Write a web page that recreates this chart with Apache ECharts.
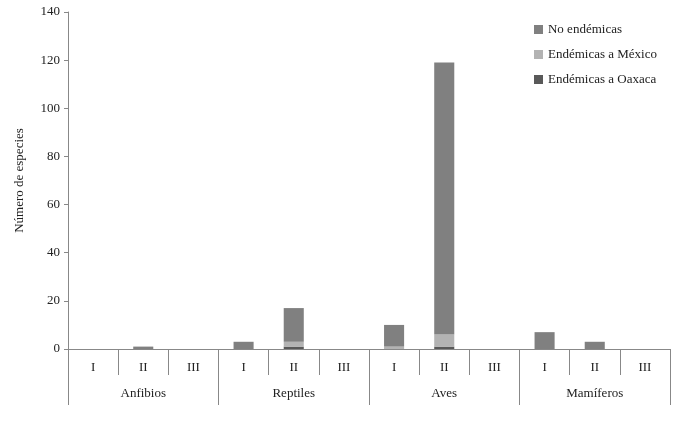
<!DOCTYPE html><html><head><meta charset="utf-8"><script src="https://cdn.jsdelivr.net/npm/echarts@6/dist/echarts.min.js"></script></head><body style="margin:0"><div id="c" style="width:684px;height:421px"></div><script>
const periods=['I','II','III','I','II','III','I','II','III','I','II','III'];
const groups=['Anfibios','Reptiles','Aves','Mamíferos'];
const oaxaca=[0,0,0,0,1,0,0,1,0,0,0,0];
const mexico=[0,0,0,0,2,0,1,5,0,0,0,0];
const noEnd=[0,1,0,3,14,0,9,113,0,7,3,0];
const yTicks=[0,20,40,60,80,100,120,140];
const F='Liberation Serif';
const ch=echarts.init(document.getElementById('c'));
ch.setOption({
 textStyle:{fontFamily:F},
 legend:{orient:'vertical',right:22,top:18,itemWidth:9,itemHeight:9,itemGap:12,icon:'rect',
  textStyle:{fontFamily:F,fontSize:13,color:'#222'},data:['No endémicas','Endémicas a México','Endémicas a Oaxaca']},
 grid:{left:68,right:14,top:12,bottom:72},
 xAxis:[{type:'category',data:periods,axisLine:{show:true,lineStyle:{color:'#888'}},
   axisTick:{show:true,interval:0,alignWithLabel:false,length:26,lineStyle:{color:'#888'}},
   axisLabel:{show:true,interval:0,color:'#222',fontSize:13,fontFamily:F,margin:12}},
  {type:'category',data:groups,position:'bottom',axisLine:{show:false},
   axisTick:{show:true,interval:0,length:56,lineStyle:{color:'#888'}},
   axisLabel:{show:true,interval:0,color:'#222',fontSize:13,fontFamily:F,margin:38}}],
 yAxis:{type:'value',min:0,max:140,interval:20,name:'Número de especies',nameLocation:'middle',nameGap:42,
  nameTextStyle:{fontFamily:F,fontSize:13,color:'#222'},
  axisLine:{show:true,lineStyle:{color:'#888'}},axisTick:{show:true,length:4,lineStyle:{color:'#888'}},
  splitLine:{show:false},axisLabel:{color:'#222',fontSize:13,fontFamily:F,formatter:v=>yTicks.includes(v)?v:''}},
 series:[
  {name:'Endémicas a Oaxaca',type:'bar',stack:'s',data:oaxaca,itemStyle:{color:'#595959'},barWidth:'40%'},
  {name:'Endémicas a México',type:'bar',stack:'s',data:mexico,itemStyle:{color:'#b3b3b3'}},
  {name:'No endémicas',type:'bar',stack:'s',data:noEnd,itemStyle:{color:'#808080'}}
 ]
});
</script></body></html>
